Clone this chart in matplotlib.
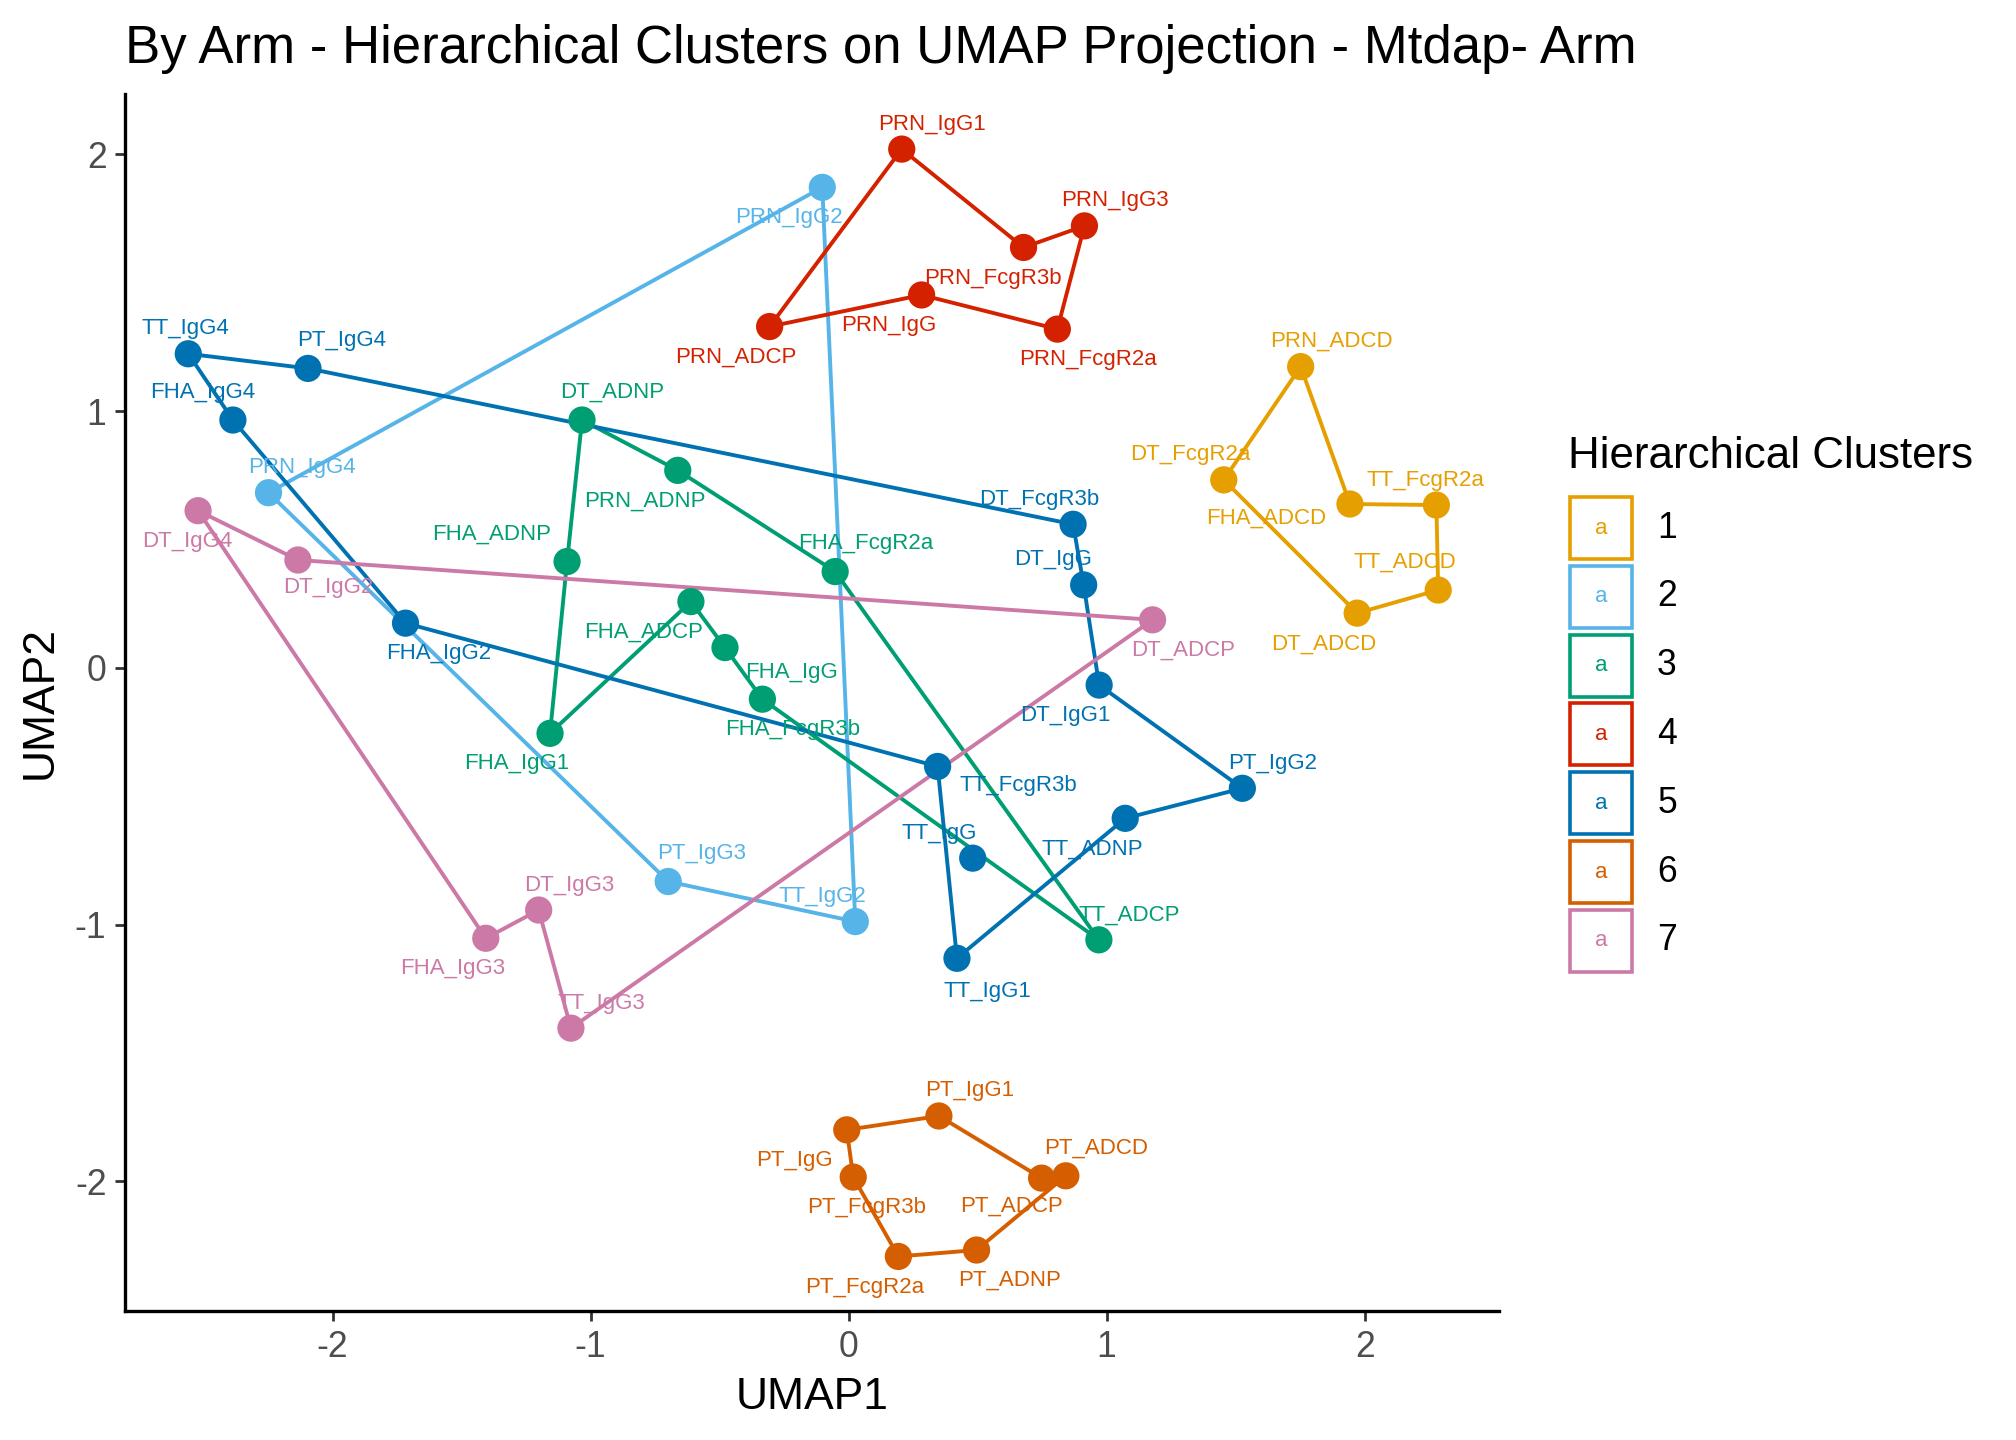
# UMAP projection with hierarchical cluster outlines
import matplotlib.pyplot as plt
from matplotlib.patches import Polygon, Rectangle

plt.rcParams['font.family'] = ['Liberation Sans', 'DejaVu Sans']
plt.rcParams['axes.unicode_minus'] = False

# point data
names = ['PRN_ADCD', 'FHA_ADCD', 'TT_FcgR2a', 'TT_ADCD', 'DT_ADCD', 'DT_FcgR2a',
         'PRN_IgG2', 'TT_IgG2', 'PT_IgG3', 'PRN_IgG4',
         'DT_ADNP', 'PRN_ADNP', 'FHA_FcgR2a', 'TT_ADCP', 'FHA_FcgR3b', 'FHA_IgG',
         'FHA_ADCP', 'FHA_IgG1', 'FHA_ADNP',
         'PRN_ADCP', 'PRN_IgG1', 'PRN_FcgR3b', 'PRN_IgG3', 'PRN_FcgR2a', 'PRN_IgG',
         'TT_IgG4', 'PT_IgG4', 'DT_FcgR3b', 'DT_IgG', 'DT_IgG1', 'PT_IgG2', 'TT_ADNP',
         'TT_IgG1', 'TT_IgG', 'TT_FcgR3b', 'FHA_IgG2', 'FHA_IgG4',
         'PT_IgG', 'PT_IgG1', 'PT_ADCP', 'PT_ADCD', 'PT_ADNP', 'PT_FcgR2a', 'PT_FcgR3b',
         'DT_IgG4', 'DT_IgG2', 'DT_ADCP', 'TT_IgG3', 'DT_IgG3', 'FHA_IgG3']
umap1 = [1.752, 1.943, 2.278, 2.285, 1.971, 1.454,
         -0.102, 0.026, -0.699, -2.248,
         -1.033, -0.662, -0.052, 0.970, -0.334, -0.479, -0.611, -1.157, -1.091,
         -0.306, 0.206, 0.678, 0.914, 0.809, 0.283,
         -2.559, -2.095, 0.870, 0.911, 0.971, 1.526, 1.072, 0.420, 0.481, 0.345, -1.717, -2.386,
         -0.007, 0.350, 0.748, 0.842, 0.496, 0.193, 0.018,
         -2.521, -2.134, 1.178, -1.076, -1.201, -1.406]
umap2 = [1.173, 0.638, 0.634, 0.303, 0.213, 0.732,
         1.871, -0.988, -0.832, 0.682,
         0.965, 0.769, 0.375, -1.059, -0.122, 0.079, 0.258, -0.255, 0.414,
         1.329, 2.020, 1.637, 1.721, 1.319, 1.452,
         1.223, 1.166, 0.559, 0.323, -0.067, -0.469, -0.586, -1.131, -0.741, -0.384, 0.174, 0.965,
         -1.799, -1.745, -1.987, -1.978, -2.267, -2.292, -1.983,
         0.612, 0.420, 0.187, -1.403, -0.943, -1.053]
clusters = [1] * 6 + [2] * 4 + [3] * 9 + [4] * 6 + [5] * 12 + [6] * 7 + [7] * 6

# outline path of each cluster (point names in drawing order)
outline = {
    1: ['PRN_ADCD', 'FHA_ADCD', 'TT_FcgR2a', 'TT_ADCD', 'DT_ADCD', 'DT_FcgR2a'],
    2: ['PRN_IgG2', 'TT_IgG2', 'PT_IgG3', 'PRN_IgG4'],
    3: ['DT_ADNP', 'PRN_ADNP', 'FHA_FcgR2a', 'TT_ADCP', 'FHA_FcgR3b', 'FHA_IgG',
        'FHA_ADCP', 'FHA_IgG1', 'FHA_ADNP'],
    4: ['PRN_ADCP', 'PRN_IgG1', 'PRN_FcgR3b', 'PRN_IgG3', 'PRN_FcgR2a', 'PRN_IgG'],
    5: ['TT_IgG4', 'PT_IgG4', 'DT_FcgR3b', 'DT_IgG', 'DT_IgG1', 'PT_IgG2', 'TT_ADNP',
        'TT_IgG1', 'TT_FcgR3b', 'FHA_IgG2', 'FHA_IgG4'],
    6: ['PT_IgG', 'PT_IgG1', 'PT_ADCP', 'PT_ADCD', 'PT_ADNP', 'PT_FcgR2a', 'PT_FcgR3b'],
    7: ['DT_IgG4', 'DT_IgG2', 'DT_ADCP', 'TT_IgG3', 'DT_IgG3', 'FHA_IgG3'],
}

colors = {1: '#E69F00', 2: '#56B4E9', 3: '#009E73', 4: '#D42200',
          5: '#0072B2', 6: '#D55E00', 7: '#CC79A7'}

# label offsets in points (like the repelled labels of the original)
label_off = {
    'PRN_ADCD': (11, 9), 'DT_FcgR2a': (-12, 9), 'FHA_ADCD': (-30, -5), 'TT_FcgR2a': (-4, 9),
    'TT_ADCD': (-12, 10), 'DT_ADCD': (-12, -11),
    'PRN_IgG2': (-12, -11), 'PRN_IgG4': (12, 9), 'PT_IgG3': (12, 10), 'TT_IgG2': (-12, 9),
    'DT_ADNP': (11, 10), 'PRN_ADNP': (-12, -11), 'FHA_ADNP': (-27, 10), 'FHA_FcgR2a': (11, 10),
    'FHA_ADCP': (-17, -11), 'FHA_IgG': (24, -9), 'FHA_FcgR3b': (11, -11), 'FHA_IgG1': (-12, -11),
    'TT_ADCP': (11, 9),
    'PRN_IgG1': (11, 9), 'PRN_IgG3': (11, 9), 'PRN_FcgR3b': (-11, -11), 'PRN_IgG': (-12, -11),
    'PRN_FcgR2a': (11, -11), 'PRN_ADCP': (-12, -11),
    'TT_IgG4': (-1, 9), 'PT_IgG4': (12, 10), 'FHA_IgG4': (-11, 10), 'FHA_IgG2': (12, -11),
    'DT_FcgR3b': (-12, 9), 'DT_IgG': (-11, 9), 'DT_IgG1': (-12, -11), 'PT_IgG2': (11, 9),
    'TT_ADNP': (-12, -11), 'TT_FcgR3b': (29, -7), 'TT_IgG': (-12, 9), 'TT_IgG1': (11, -12),
    'PT_IgG1': (11, 9), 'PT_IgG': (-19, -11), 'PT_FcgR3b': (5, -11), 'PT_ADCP': (-11, -10),
    'PT_ADCD': (11, 10), 'PT_ADNP': (12, -11), 'PT_FcgR2a': (-12, -11),
    'DT_IgG4': (-4, -11), 'DT_IgG2': (11, -10), 'DT_ADCP': (11, -11), 'DT_IgG3': (11, 9),
    'FHA_IgG3': (-12, -11), 'TT_IgG3': (11, 9),
}

fig = plt.figure(figsize=(10.08, 7.2), dpi=200)
ax = fig.add_axes([0.0619, 0.0893, 0.6817, 0.8455])

pos = dict(zip(names, zip(umap1, umap2)))
for c, order in outline.items():
    ax.add_patch(Polygon([pos[n] for n in order], closed=True, fill=False,
                         edgecolor=colors[c], lw=1.4, joinstyle='round', zorder=2))

ax.scatter(umap1, umap2, c=[colors[c] for c in clusters], s=96, linewidths=0, zorder=3)

for n, x, y, c in zip(names, umap1, umap2, clusters):
    ax.annotate(n, (x, y), xytext=label_off[n], textcoords='offset points',
                ha='center', va='center', fontsize=8, color=colors[c], zorder=4)

ax.set_xlim(-2.805, 2.521)
ax.set_ylim(-2.506, 2.235)
ax.set_xticks([-2, -1, 0, 1, 2])
ax.set_yticks([-2, -1, 0, 1, 2])
for s in ['top', 'right']:
    ax.spines[s].set_visible(False)
for s in ['left', 'bottom']:
    ax.spines[s].set_linewidth(1.2)
    ax.spines[s].set_color('black')
ax.tick_params(length=3.6, width=1, color='#333333', labelcolor='#4D4D4D',
               labelsize=12.8, pad=3)

fig.text(0.0619, 0.9563, 'By Arm - Hierarchical Clusters on UMAP Projection - Mtdap- Arm',
         fontsize=19, va='baseline', ha='left')
fig.text((0.0619 + 0.7436) / 2, 0.0215, 'UMAP1', fontsize=16, va='baseline', ha='center')
fig.text(0.0198, 0.0893 + 0.8455 / 2, 'UMAP2', fontsize=16, rotation=90,
         va='center', ha='center')

# legend drawn by hand in pixel coordinates
leg = fig.add_axes([0, 0, 1, 1])
leg.set_xlim(0, 2016)
leg.set_ylim(1440, 0)
leg.axis('off')
leg.text(1568, 468, 'Hierarchical Clusters', fontsize=15.8, va='baseline', ha='left')
for i, c in enumerate(sorted(colors)):
    top = 497 + i * 68.8
    leg.add_patch(Rectangle((1570, top), 62, 62, fill=False, edgecolor=colors[c], lw=1.3))
    leg.text(1601, top + 31, 'a', fontsize=8, color=colors[c], ha='center', va='center')
    leg.text(1667, top + 31, str(c), fontsize=12.8, color='black', ha='center', va='center')

fig.savefig('out.png', dpi=200)
